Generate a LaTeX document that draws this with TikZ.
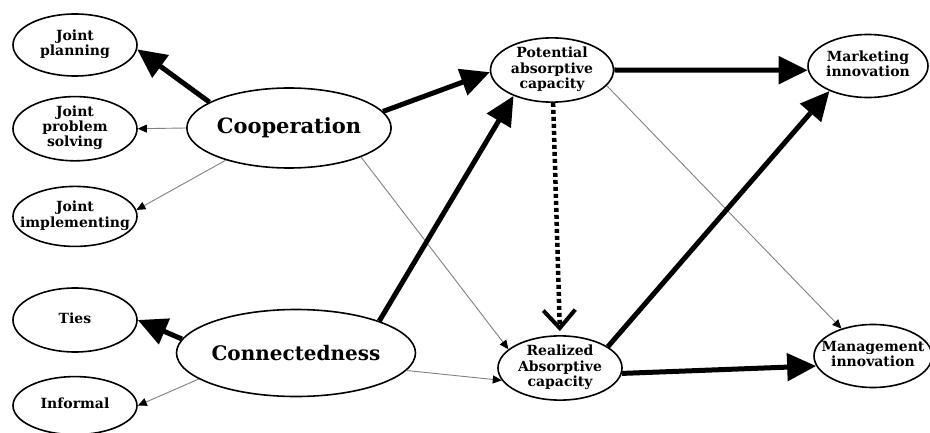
\documentclass[tikz,border=0pt]{standalone}
\usepackage{fontspec}
\setmainfont{DejaVu Serif}
\usetikzlibrary{shapes.geometric,arrows.meta,positioning}
\newcommand{\elltext}[1]{\makebox[0pt]{\begin{tabular}{@{}c@{}}#1\end{tabular}}}

\begin{document}
\begin{tikzpicture}[x=1pt, y=-1pt, font=\bfseries]

\tikzstyle{smallell} = [ellipse, draw, line width=1.6pt, inner sep=0pt, minimum width=124pt, minimum height=62pt, font=\fontsize{14}{15}\selectfont\bfseries]
\tikzstyle{bigell} = [ellipse, draw, line width=1.6pt, inner sep=0pt, minimum width=188pt, minimum height=80pt, font=\fontsize{21}{24}\selectfont\bfseries]
\tikzstyle{strongpath} = [line width=5pt, -{Triangle[length=29pt, width=27pt]}]
\tikzstyle{weakpath} = [line width=0.9pt, black!50, -{Triangle[length=9pt, width=8pt, color=black]}]
\tikzstyle{dotpath} = [line width=4.5pt, dash pattern=on 4pt off 3pt, shorten >=7pt]
\tikzstyle{vtip} = [line width=4pt, shorten <=222pt, shorten >=4pt, -{Straight Barb[length=18pt, width=32pt]}]

\useasboundingbox (0,0) rectangle (930,433);

% left column
\node[smallell] (jp) at (75,45) {\elltext{Joint\\planning}};
\node[smallell, below=19pt of jp] (jps) {\elltext{Joint\\problem\\solving}};
\node[smallell, minimum height=60pt, below=24pt of jps] (ji) {\elltext{Joint\\implementing}};
\node[smallell, minimum height=64pt] (ties) at (75,320) {\elltext{Ties}};
\node[smallell, minimum height=58pt, below=23pt of ties] (inf) {\elltext{Informal}};

% main constructs
\node[bigell] (coop) at (289,128) {Cooperation};
\node[bigell, minimum height=87pt, font=\fontsize{20}{24}\selectfont\bfseries] (conn) at (296,353) {Connectedness};
\node[smallell, minimum width=123pt, minimum height=64pt] (pot) at (552,70) {\elltext{Potential\\absorptive\\capacity}};
\node[smallell, minimum height=63pt] (real) at (560,368) {\elltext{Realized\\Absorptive\\capacity}};
\node[smallell, minimum width=120pt, minimum height=63pt] (mkt) at (868,66) {\elltext{Marketing\\innovation}};
\node[smallell, minimum width=118pt, minimum height=63pt] (mgmt) at (873,356) {\elltext{Management\\innovation}};

\draw[strongpath] (coop.162) -- (jp.-4);
\draw[weakpath] (coop.180) -- (jps.0);
\draw[weakpath] (coop.207) -- (ji.6);
\draw[strongpath] (coop.10) -- (pot.182);
\draw[weakpath] (coop.-22) -- (real.160);

\draw[strongpath] (conn.173) -- (ties.0);
\draw[weakpath] (conn.195) -- (inf.0);
\draw[strongpath] (conn.21) -- (pot.-146);
\draw[weakpath] (conn.-9) -- (real.192);

\draw[strongpath] (pot.0) -- (mkt.184);
\draw[weakpath] (pot.-16) -- (mgmt.139);
% dotted link, its open head drawn solid
\draw[dotpath] (pot.-88) -- (real.north);
\draw[vtip] (pot.-88) -- (real.north);
\draw[strongpath] (real.24) -- (mkt.-147);
\draw[strongpath] (real.-5) -- (mgmt.190);

\end{tikzpicture}
\end{document}
